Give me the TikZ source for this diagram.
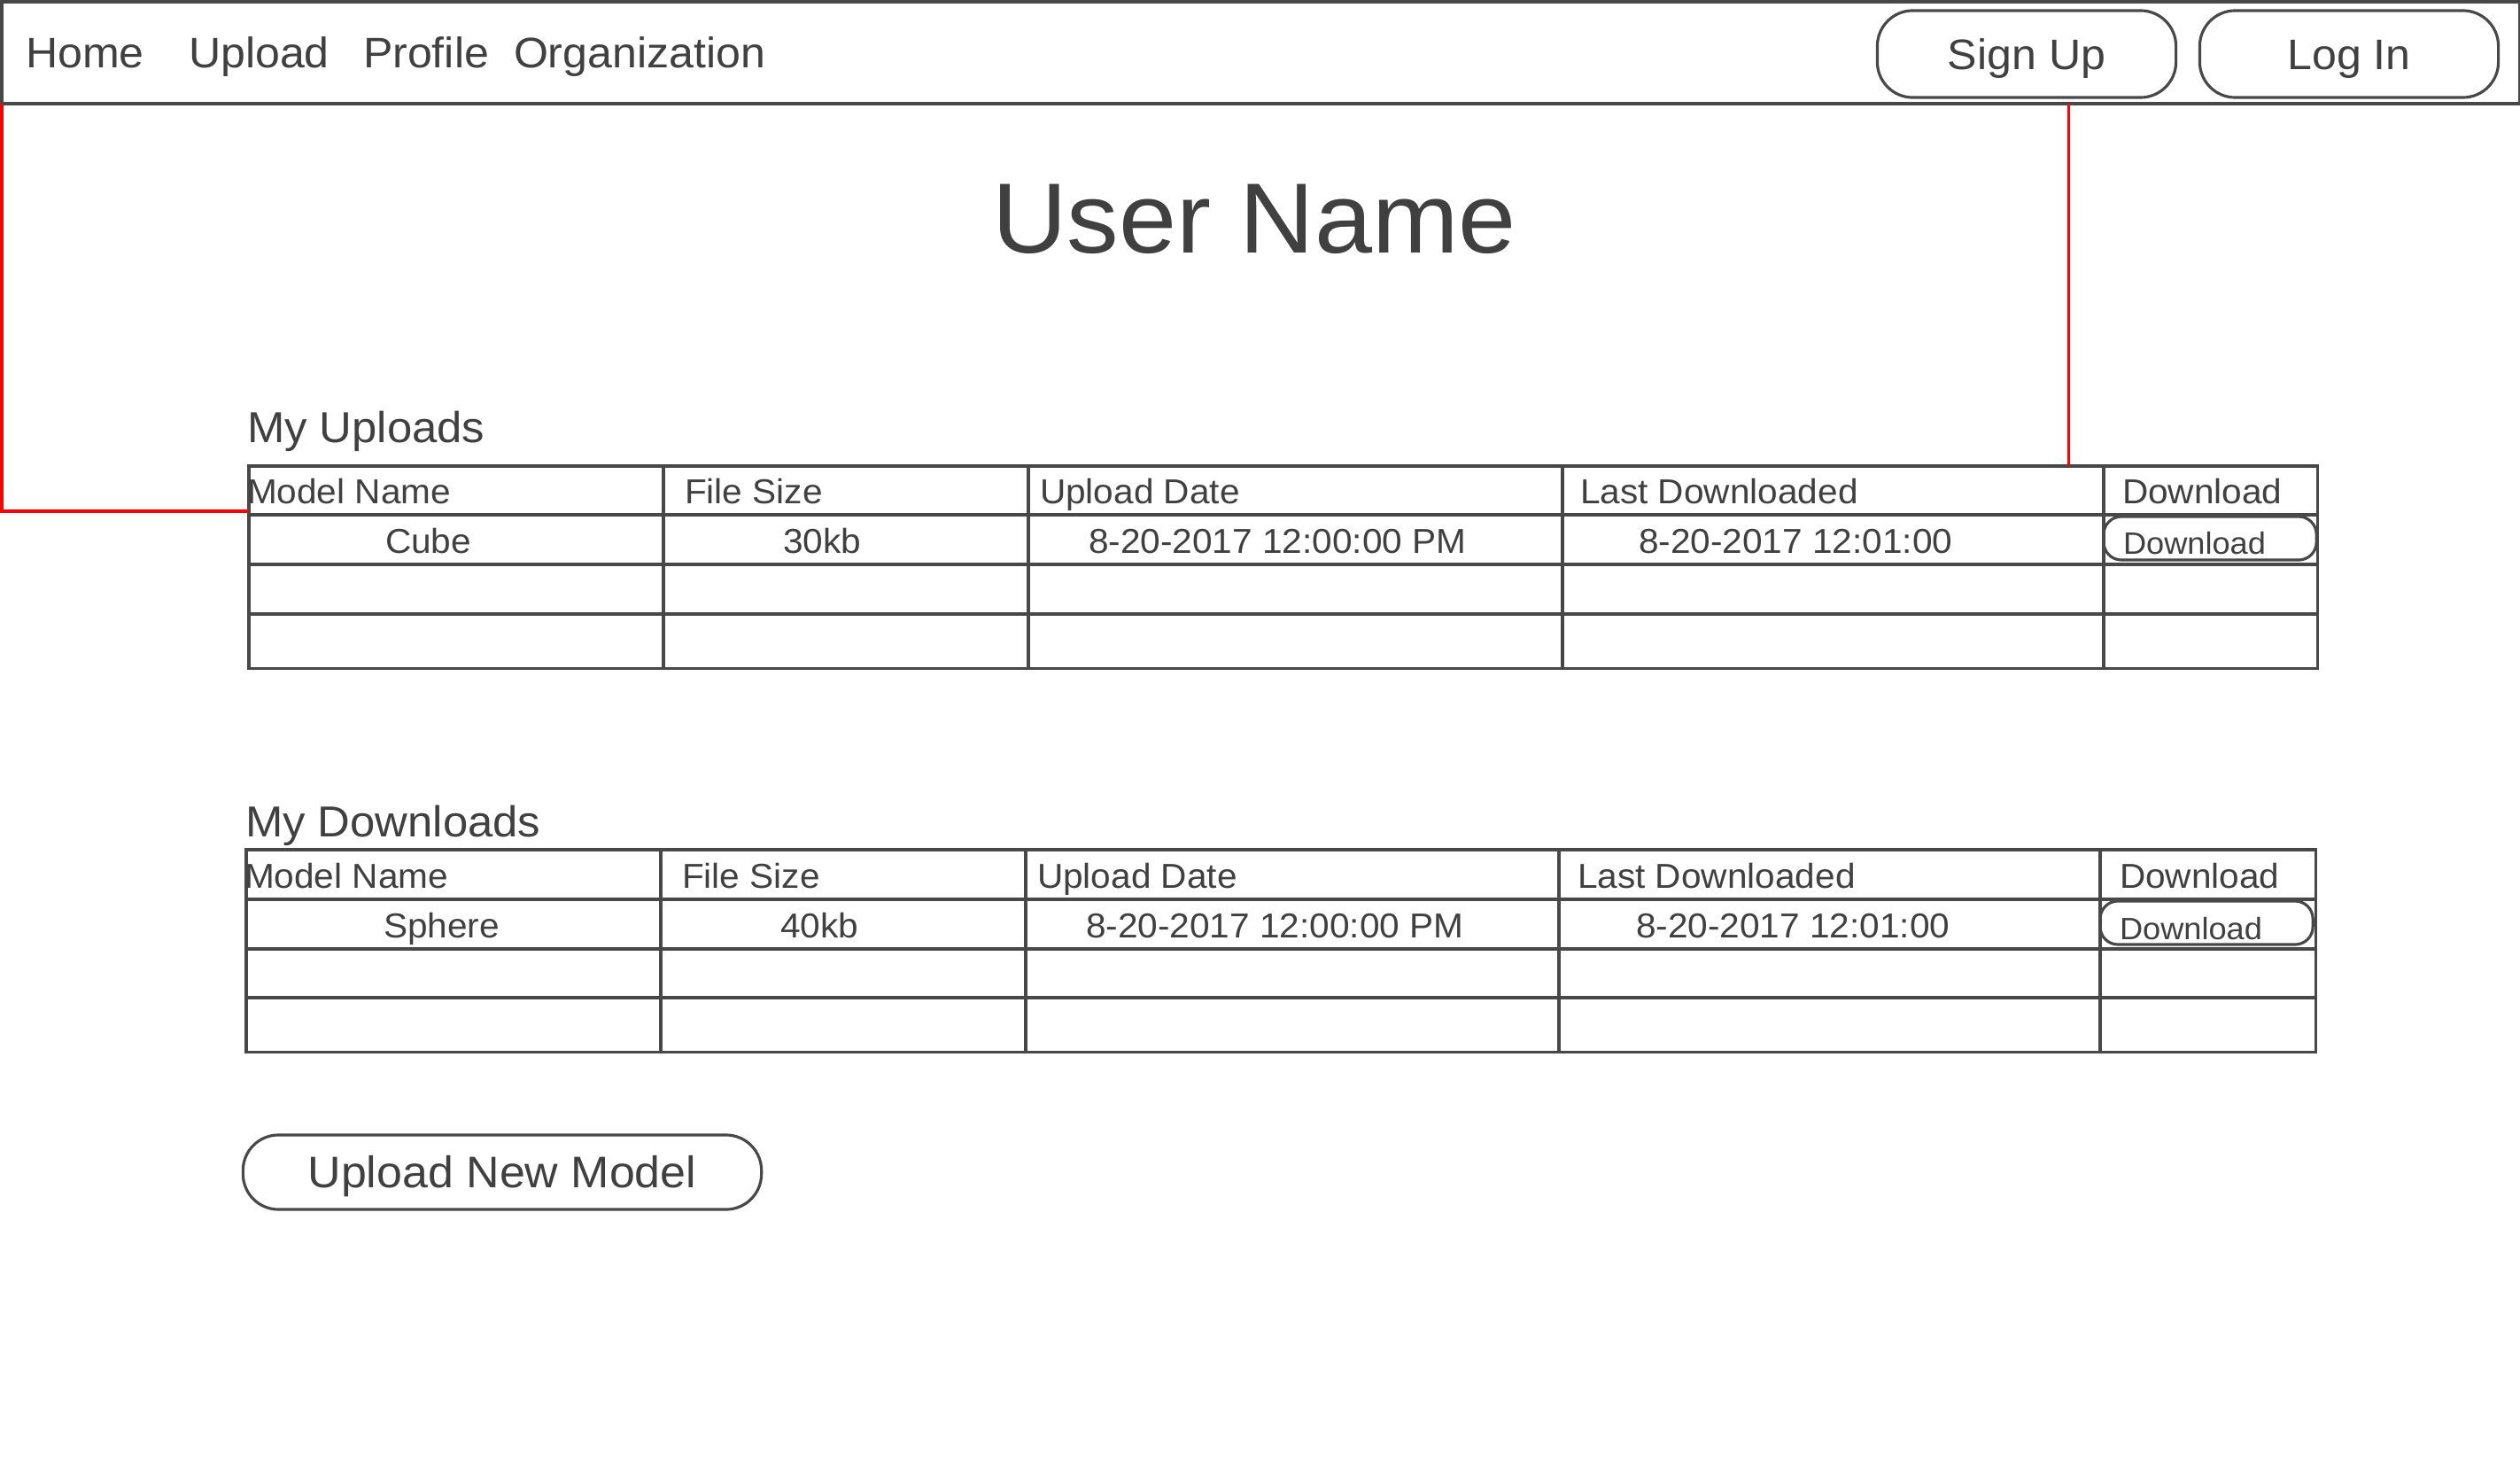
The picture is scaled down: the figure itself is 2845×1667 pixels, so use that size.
\documentclass[tikz,border=0pt]{standalone}
\usepackage{fontspec}
\setmainfont{Liberation Sans}[FakeStretch=1.04]
\usetikzlibrary{positioning}
\definecolor{ink}{RGB}{64, 64, 64}
\definecolor{rule}{RGB}{72, 72, 72}
\definecolor{trace}{RGB}{255, 0, 0}

\begin{document}
\begin{tikzpicture}[x=0.01cm, y=-0.01cm,
    every node/.style={text=ink, inner sep=0pt, outer sep=0pt},
    menu/.style={anchor=base west, font=\fontsize{13.7}{16}\selectfont},
    pill/.style={draw=rule, line width=0.9pt, rounded corners=0.4cm,
                 text height=9.8pt, text depth=0pt, font=\fontsize{13.7}{16}\selectfont},
    minipill/.style={draw=rule, line width=0.9pt, rounded corners=0.2cm,
                 minimum width=2.4cm, minimum height=0.49cm, anchor=north west},
    title/.style={anchor=base west, font=\fontsize{13.9}{16}\selectfont},
    cell/.style={anchor=base west, font=\fontsize{11.1}{13}\selectfont},
    small/.style={anchor=base west, font=\fontsize{9.9}{12}\selectfont},
    frame/.style={draw=rule, line width=0.9pt, anchor=north west},
    grid/.style={draw=rule, line width=0.9pt},
    link/.style={draw=trace, line width=0.9pt}]

    \useasboundingbox (0,0) rectangle (2845,1667);

    % Navigation bar
    \node[frame, minimum width=28.41cm, minimum height=1.15cm] (navbar) at (2,2) {};
    \node[menu] (home) at (29,77) {Home};
    \node[menu] (upload) at (213,77) {Upload};
    \node[menu] (profile) at (410,77) {Profile};
    \node[menu] (org) at (580,77) {Organization};
    \node[pill, minimum width=3.37cm, minimum height=0.98cm] (signup) at (2288,61) {Sign Up};
    \node[pill, minimum width=3.37cm, minimum height=0.98cm] (login) at (2652,61) {Log In};

    % Page title
    \node[anchor=base, font=\fontsize{32}{38}\selectfont] (user) at (1416,286) {User Name};

    % Uploads table
    \node[title] (uptitle) at (279,500) {My Uploads};
    \node[frame, minimum width=23.34cm, minimum height=2.28cm] (uptable) at (281,526) {};
    \foreach \y in {581,637,693} \draw[grid] (281,\y) -- (2615,\y);
    \foreach \x in {749,1161,1764,2375} \draw[grid] (\x,526) -- (\x,754);
    \node[cell] (upname) at (279,568) {Model Name};
    \node[cell] (upsize) at (773,568) {File Size};
    \node[cell] (update) at (1174,568) {Upload Date};
    \node[cell] (uplast) at (1784,568) {Last Downloaded};
    \node[cell] (upget) at (2396,568) {Download};
    \node[cell] (cube) at (435,624) {Cube};
    \node[cell] (cubesize) at (884,624) {30kb};
    \node[cell] (cubedate) at (1229,624) {8-20-2017 12:00:00 PM};
    \node[cell] (cubelast) at (1850,624) {8-20-2017 12:01:00};
    \node[minipill] (cubebtn) at (2375,583) {};
    \node[small] (cubeget) at (2397,625) {Download};

    % Downloads table
    \node[title] (downtitle) at (277,944) {My Downloads};
    \node[frame, minimum width=23.35cm, minimum height=2.28cm] (downtable) at (278,959) {};
    \foreach \y in {1015,1071,1126} \draw[grid] (278,\y) -- (2613,\y);
    \foreach \x in {746,1158,1760,2371} \draw[grid] (\x,959) -- (\x,1187);
    \node[cell] (downname) at (276,1002) {Model Name};
    \node[cell] (downsize) at (770,1002) {File Size};
    \node[cell] (downdate) at (1171,1002) {Upload Date};
    \node[cell] (downlast) at (1781,1002) {Last Downloaded};
    \node[cell] (downget) at (2393,1002) {Download};
    \node[cell] (sphere) at (433,1058) {Sphere};
    \node[cell] (spheresize) at (881,1058) {40kb};
    \node[cell] (spheredate) at (1226,1058) {8-20-2017 12:00:00 PM};
    \node[cell] (spherelast) at (1847,1058) {8-20-2017 12:01:00};
    \node[minipill] (spherebtn) at (2371,1017) {};
    \node[small] (sphereget) at (2393,1060) {Download};

    % Upload button
    \node[pill, minimum width=5.85cm, minimum height=0.84cm, rounded corners=0.4cm,
          font=\fontsize{14.2}{17}\selectfont, text height=10.2pt] (newmodel) at (567,1323) {Upload New Model};

    % Red traces
    \coordinate (uptick) at ([xshift=20.53cm]uptable.north west);
    \draw[link] (navbar.south west) |- ([yshift=-0.51cm]uptable.north west);
    \draw[link] (uptick |- navbar.south) -- (uptick);
\end{tikzpicture}
\end{document}
